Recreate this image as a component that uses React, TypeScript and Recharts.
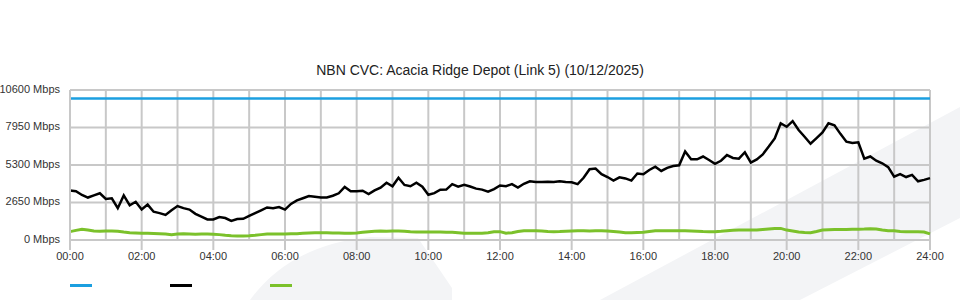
import { LineChart, Line, XAxis, YAxis, CartesianGrid } from 'recharts';

// link capacity (flat line) and two traffic series, sampled every 10 minutes from 00:00 to 24:00
const CAPACITY = 10000;

const trafficIn = [
  3500, 3450, 3180, 3000, 3150, 3300, 2900, 2950, 2250, 3150, 2450, 2700, 2150, 2500, 2000, 1900,
  1770, 2100, 2400, 2250, 2150, 1850, 1650, 1450, 1450,
  1620, 1550, 1350, 1480, 1500, 1700, 1900, 2100, 2300, 2250, 2330, 2150, 2550, 2800, 2950, 3100,
  3050, 3000, 3000, 3130, 3300, 3750, 3450, 3450,
  3480, 3250, 3500, 3700, 4050, 3800, 4400, 3890, 3800, 4050, 3770, 3200, 3310, 3550, 3560, 3950,
  3770, 3900, 3780, 3630, 3560, 3420, 3600, 3850,
  3800, 3950, 3700, 3970, 4150, 4100, 4100, 4120, 4100, 4150, 4100, 4080, 3950, 4400, 5000, 5050,
  4650, 4450, 4200, 4430, 4350, 4200, 4700, 4650,
  4950, 5180, 4880, 5100, 5230, 5280, 6250, 5700, 5700, 5900, 5650, 5380, 5600, 6000, 5800, 5750,
  6200, 5470, 5700, 6050, 6600, 7180, 8250, 8000,
  8400, 7770, 7300, 6800, 7200, 7600, 8250, 8100, 7500, 6950, 6850, 6900, 5750, 5900, 5600, 5420,
  5150, 4480, 4650, 4450, 4600, 4150, 4250, 4370,
];

const trafficOut = [
  590, 680, 760, 700,
  640, 620, 640, 640, 620, 560,
  520, 500, 480, 470, 460, 450, 420, 370,
  420, 440, 420, 400, 430, 420, 410,
  380, 330, 300, 280, 290, 300,
  330, 380, 420, 420, 420, 430,
  440, 450, 470, 490, 510, 520,
  510, 500, 490, 480, 480, 500,
  540, 580, 610, 630, 620, 630,
  640, 620, 590, 570, 560, 560,
  570, 560, 550, 540, 510, 480,
  470, 470, 480, 520, 580, 590,
  480, 520, 600, 650, 660, 650,
  640, 600, 590, 600, 620, 640,
  650, 660, 640, 660, 650, 640,
  600, 560, 520, 510, 530, 540,
  600, 650, 660, 660, 650, 660,
  660, 640, 620, 600, 590, 590,
  620, 660, 690, 700, 700, 710,
  700, 740, 780, 820, 820, 700,
  640, 560, 530, 520, 600, 700,
  720, 740, 750, 750, 760, 760,
  770, 800, 780, 700, 660, 650,
  600, 590, 590, 580, 560, 430,
];

const yTicks = [0, 2650, 5300, 7950, 10600];
const hourTicks = Array.from({ length: 25 }, (_, h) => h * 60);

const BLUE = '#1b9fe0';
const BLACK = '#000000';
const GREEN = '#7bc12b';
const GRID = '#c8c8c8';
const FONT = '"Liberation Sans", Arial, sans-serif';

const rows = trafficIn.map((v, i) => ({
  minute: i * 10,
  capacity: CAPACITY,
  inbound: v,
  outbound: trafficOut[i],
}));

const TICK_SIZE = 10;
const TICK_MARGIN = 2;

// only every second hour gets a tick mark and a label
const HourTick = (props: any) => {
  const { x, y, payload } = props;
  const m = payload.value as number;
  if (m % 120 !== 0) return null;
  const label = `${String(m / 60).padStart(2, '0')}:00`;
  const top = y - TICK_MARGIN - TICK_SIZE;
  return (
    <g>
      <line x1={x} x2={x} y1={top} y2={top + TICK_SIZE} stroke={GRID} strokeWidth={2} />
      <text x={x} y={y} dy="0.71em" textAnchor="middle" fontSize={11} fontFamily={FONT} fill="#333">
        {label}
      </text>
    </g>
  );
};

const MbpsTick = (props: any) => {
  const { x, y, payload } = props;
  return (
    <text x={x} y={y - 1} dy="0.355em" textAnchor="end" fontSize={11} fontFamily={FONT} fill="#333">
      {`${payload.value} Mbps`}
    </text>
  );
};

const legendItems = [
  { color: BLUE, left: 70 },
  { color: BLACK, left: 170 },
  { color: GREEN, left: 270 },
];

export default function App() {
  return (
    <div style={{ position: 'absolute', left: 0, top: 0, width: 960, height: 300, background: '#fff', overflow: 'hidden' }}>
      {/* faint watermark in the background */}
      <svg width={960} height={300} style={{ position: 'absolute', left: 0, top: 0 }}>
        <path d="M 250 300 Q 290 245 370 237 L 418 238 L 452 288 L 452 300 Z" fill="#f3f4f6" />
        <path d="M 600 300 L 960 107 L 960 218 L 800 300 Z" fill="#f3f4f6" />
      </svg>
      <div
        style={{
          position: 'absolute',
          top: 62,
          left: 0,
          width: 960,
          textAlign: 'center',
          fontFamily: FONT,
          fontSize: 14,
          color: '#222',
        }}
      >
        NBN CVC: Acacia Ridge Depot (Link 5) (10/12/2025)
      </div>
      <div style={{ position: 'absolute', left: 0, top: 0 }}>
        <LineChart width={960} height={300} data={rows} margin={{ top: 90, right: 30, bottom: 30, left: 0 }}>
          <CartesianGrid stroke={GRID} strokeWidth={2} />
          <XAxis
            dataKey="minute"
            type="number"
            domain={[0, 1440]}
            ticks={hourTicks}
            interval={0}
            height={30}
            tickLine={false}
            tickSize={TICK_SIZE}
            tickMargin={TICK_MARGIN}
            axisLine={{ stroke: GRID, strokeWidth: 2 }}
            tick={<HourTick />}
          />
          <YAxis
            type="number"
            domain={[0, 10600]}
            ticks={yTicks}
            interval={0}
            width={70}
            tickLine={false}
            tickSize={0}
            tickMargin={10}
            axisLine={{ stroke: GRID, strokeWidth: 2 }}
            tick={<MbpsTick />}
          />
          <Line type="linear" dataKey="capacity" stroke={BLUE} strokeWidth={2.5} dot={false} isAnimationActive={false} />
          <Line type="linear" dataKey="inbound" stroke={BLACK} strokeWidth={2.5} dot={false} isAnimationActive={false} />
          <Line type="linear" dataKey="outbound" stroke={GREEN} strokeWidth={3} dot={false} isAnimationActive={false} />
        </LineChart>
      </div>
      {legendItems.map((it) => (
        <div
          key={it.left}
          style={{ position: 'absolute', left: it.left, top: 284, width: 22, height: 3, background: it.color }}
        />
      ))}
    </div>
  );
}
